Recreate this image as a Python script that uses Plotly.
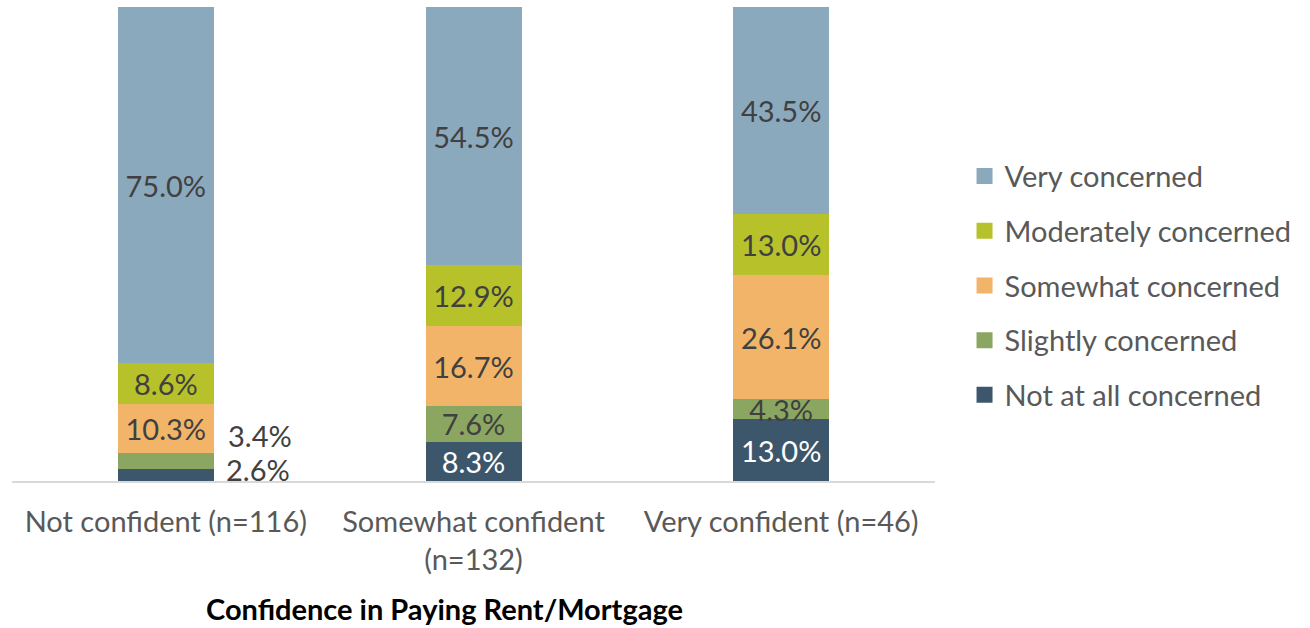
import plotly.graph_objects as go

categories = ["Not confident (n=116)", "Somewhat confident<br>(n=132)", "Very confident (n=46)"]
series_names = ["Not at all concerned", "Slightly concerned", "Somewhat concerned",
                "Moderately concerned", "Very concerned"]
not_at_all = [2.6, 8.3, 13.0]
slightly = [3.4, 7.6, 4.3]
somewhat = [10.3, 16.7, 26.1]
moderately = [8.6, 12.9, 13.0]
very = [75.0, 54.5, 43.5]

series_values = [not_at_all, slightly, somewhat, moderately, very]
colors = ["#3C566B", "#8AA660", "#F2B468", "#B7C12A", "#8BA9BD"]
label_colors = [["#404040", "#FFFFFF", "#FFFFFF"]] + [["#404040"] * 3] * 4
outside = [(0, 0, 92, 5), (1, 0, 94, 25)]
outside_set = {(s, c) for s, c, _, _ in outside}

FONT = "Lato"
FS = 29
fig = go.Figure()
for si, (name, vals) in enumerate(zip(series_names, series_values)):
    texts = ["" if (si, ci) in outside_set else f"{v:.1f}%" for ci, v in enumerate(vals)]
    fig.add_trace(go.Bar(
        name=name, x=categories, y=vals, text=texts,
        textposition="inside", insidetextanchor="middle", constraintext="none",
        textfont=dict(family=FONT, size=FS, color=label_colors[si]),
        marker=dict(color=colors[si], line=dict(width=0)),
        width=0.312, showlegend=False, hoverinfo="skip",
    ))
    # legend entry with a larger square swatch
    fig.add_trace(go.Scatter(
        name=name, x=[None], y=[None], mode="markers",
        marker=dict(symbol="square", size=18, color=colors[si]),
        legendgroup=name, legendrank=5 - si, hoverinfo="skip",
    ))

for si, ci, xs, ys in outside:
    base = sum(series_values[k][ci] for k in range(si))
    fig.add_annotation(x=categories[ci], y=base + series_values[si][ci] / 2,
                       text=f"{series_values[si][ci]:.1f}%", showarrow=False,
                       xshift=xs, yshift=ys,
                       font=dict(family=FONT, size=FS, color="#404040"))

fig.add_annotation(x=0.469, y=-0.31, xref="paper", yref="paper",
                   text="<b>Confidence in Paying Rent/Mortgage</b>", showarrow=False,
                   font=dict(family=FONT, size=29, color="#000000"))

fig.update_layout(
    width=1310, height=628, barmode="stack",
    margin=dict(l=12, r=375, t=7, b=147),
    plot_bgcolor="white", paper_bgcolor="white",
    xaxis=dict(showline=True, linecolor="#D9D9D9", linewidth=2, ticks="",
               ticklabelstandoff=14,
               tickfont=dict(family=FONT, size=FS, color="#595959"), showgrid=False),
    yaxis=dict(range=[0, 100], visible=False, showgrid=False),
    legend=dict(x=1.032, y=0.412, yanchor="middle", xanchor="left",
                traceorder="grouped", tracegroupgap=14,
                font=dict(family=FONT, size=FS, color="#595959")),
    showlegend=True,
)
fig.write_html("out.html", config={"displayModeBar": False},
               post_script="document.body.style.margin='0';")
